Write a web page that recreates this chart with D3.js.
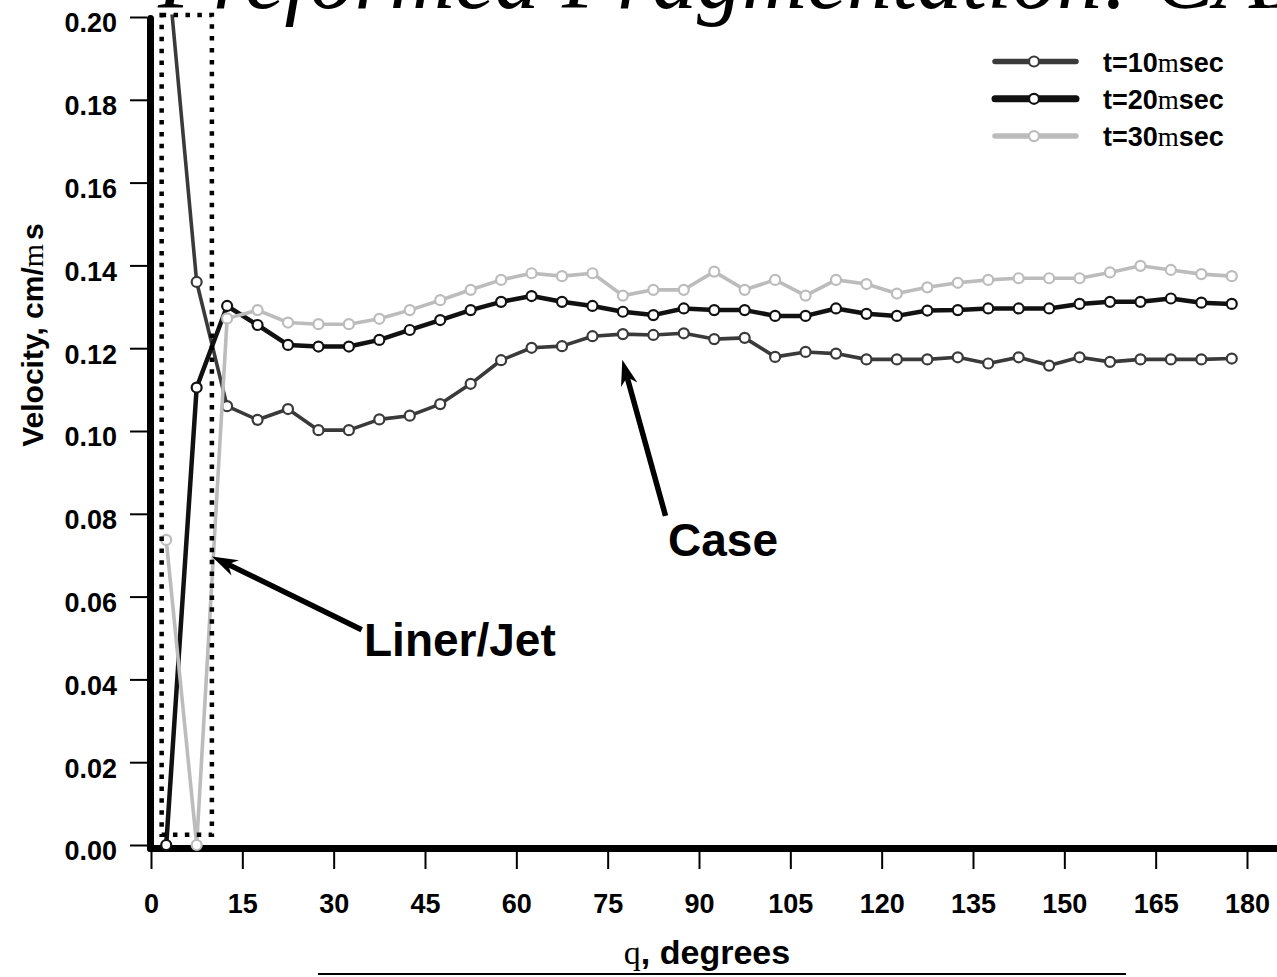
<!DOCTYPE html>
<html>
	<head>
		<title>Velocity vs angle</title>
		<meta charset="utf-8">
		<script src="https://cdn.jsdelivr.net/npm/d3@7"></script>
		<style>
			html, body
			{
				margin: 0;
				padding: 0;
				overflow: hidden;
				background: #fff;
			}

			svg
			{
				display: block;
			}
		</style>
	</head>
	<body>
		<svg id="chart" width="1277" height="977"></svg>

	<script>
		// angle of each fragment cell, degrees
		let angles = [2.5, 7.5, 12.5, 17.5, 22.5, 27.5, 32.5, 37.5, 42.5, 47.5, 52.5, 57.5,
			62.5, 67.5, 72.5, 77.5, 82.5, 87.5, 92.5, 97.5, 102.5, 107.5, 112.5, 117.5,
			122.5, 127.5, 132.5, 137.5, 142.5, 147.5, 152.5, 157.5, 162.5, 167.5, 172.5, 177.5];

		let vel10 = [0.216, 0.136, 0.106, 0.1027, 0.1053, 0.1002, 0.1002, 0.1028, 0.1037, 0.1065, 0.1114, 0.1171,
			0.1201, 0.1205, 0.1229, 0.1234, 0.1232, 0.1236, 0.1222, 0.1225, 0.1179, 0.1191, 0.1187, 0.1173,
			0.1173, 0.1173, 0.1178, 0.1163, 0.1178, 0.1158, 0.1178, 0.1167, 0.1173, 0.1173, 0.1173, 0.1175];

		let vel20 = [0.000, 0.1105, 0.1302, 0.1256, 0.1208, 0.1204, 0.1204, 0.1220, 0.1244, 0.1268, 0.1292, 0.1312,
			0.1326, 0.1312, 0.1302, 0.1288, 0.1280, 0.1296, 0.1292, 0.1292, 0.1278, 0.1278, 0.1296, 0.1283,
			0.1278, 0.1291, 0.1292, 0.1296, 0.1296, 0.1296, 0.1307, 0.1312, 0.1312, 0.1320, 0.1310, 0.1307];

		let vel30 = [0.0737, 0.000, 0.1272, 0.1292, 0.1262, 0.1258, 0.1258, 0.1271, 0.1292, 0.1316, 0.1341, 0.1365,
			0.1381, 0.1374, 0.1381, 0.1327, 0.1341, 0.1341, 0.1385, 0.1341, 0.1365, 0.1327, 0.1365, 0.1355,
			0.1332, 0.1347, 0.1358, 0.1365, 0.1369, 0.1369, 0.1369, 0.1383, 0.1399, 0.1389, 0.1379, 0.1374];

		let seriesTimes = ["10", "20", "30"];
		let xTicks = [0, 15, 30, 45, 60, 75, 90, 105, 120, 135, 150, 165, 180];
		let yTicks = [0, 0.02, 0.04, 0.06, 0.08, 0.10, 0.12, 0.14, 0.16, 0.18, 0.20];

		let sans = "'Liberation Sans', Arial, sans-serif";
		let serif = "'Liberation Serif', 'Times New Roman', serif";

		let svg = d3.select("#chart");
		svg.append("rect").attr("width", 1277).attr("height", 977).attr("fill", "#fff");

		let x = d3.scaleLinear().domain([0, 180]).range([151, 1247]);
		let y = d3.scaleLinear().domain([0, 0.2]).range([845, 17]);

		// title, mostly cut off at the top edge
		svg.append("text")
			.attr("x", 158)
			.attr("y", 8)
			.attr("font-family", serif)
			.attr("font-style", "italic")
			.attr("font-size", 90)
			.text("Preformed Fragmentation: CALE");

		// axes
		let yAxis = svg.append("g")
			.attr("transform", "translate(147,0)")
			.call(d3.axisLeft(y).tickValues(yTicks).tickSize(17).tickPadding(13).tickFormat(d3.format(".2f")));

		let xAxis = svg.append("g")
			.attr("transform", "translate(0,852)")
			.call(d3.axisBottom(x).tickValues(xTicks).tickSize(17).tickPadding(25));

		for (let a of [yAxis, xAxis])
		{
			a.select(".domain").remove();
			a.selectAll(".tick line").attr("stroke", "#000").attr("stroke-width", 2);
			a.selectAll(".tick text")
				.attr("font-family", sans)
				.attr("font-weight", "bold")
				.attr("font-size", 27)
				.attr("fill", "#000");
		}
		yAxis.selectAll(".tick text").attr("dy", "0.55em");

		svg.append("line")
			.attr("x1", 150.5).attr("x2", 150.5)
			.attr("y1", y(0.2) + 1.5).attr("y2", 848.5)
			.attr("stroke", "#000").attr("stroke-width", 7).attr("stroke-linecap", "round");
		svg.append("line")
			.attr("x1", 150.5).attr("x2", 1290)
			.attr("y1", 848.5).attr("y2", 848.5)
			.attr("stroke", "#000").attr("stroke-width", 7).attr("stroke-linecap", "round");

		// axis titles
		let yTitle = svg.append("text")
			.attr("transform", "translate(43,335) rotate(-90)")
			.attr("text-anchor", "middle")
			.attr("font-family", sans)
			.attr("font-weight", "bold")
			.attr("font-size", 30);
		yTitle.append("tspan").text("Velocity, cm/");
		yTitle.append("tspan").attr("font-family", serif).attr("font-weight", "normal").text("m");
		yTitle.append("tspan").attr("dx", 4).text("s");

		let xTitle = svg.append("text")
			.attr("x", 707)
			.attr("y", 964)
			.attr("text-anchor", "middle")
			.attr("font-family", sans)
			.attr("font-weight", "bold")
			.attr("font-size", 34);
		xTitle.append("tspan").attr("font-family", serif).attr("font-weight", "normal").text("q");
		xTitle.append("tspan").text(", degrees");

		// edge of a box below the chart, cut by the frame
		svg.append("line")
			.attr("x1", 318).attr("x2", 1126)
			.attr("y1", 974).attr("y2", 974)
			.attr("stroke", "#000").attr("stroke-width", 2);

		// series
		let series = [
			{ t: seriesTimes[0], values: vel10, color: "#3a3a3a", width: 3.6, legendWidth: 5.5 },
			{ t: seriesTimes[1], values: vel20, color: "#111", width: 4.5, legendWidth: 7 },
			{ t: seriesTimes[2], values: vel30, color: "#bcbcbc", width: 3.6, legendWidth: 5.5 }
		];

		svg.append("clipPath").attr("id", "plot-clip")
			.append("rect")
				.attr("x", 148).attr("y", y(0.2006))
				.attr("width", 1130).attr("height", 977 - y(0.2006));

		let plot = svg.append("g").attr("clip-path", "url(#plot-clip)");

		let line = d3.line()
			.x((d) => x(d[0]))
			.y((d) => y(d[1]));

		for (let s of series)
		{
			let pts = angles.map((a, i) => [a, s.values[i]]);
			let g = plot.append("g");

			g.append("path")
				.datum(pts)
				.attr("fill", "none")
				.attr("stroke", s.color)
				.attr("stroke-width", s.width)
				.attr("stroke-linejoin", "round")
				.attr("d", line);

			g.selectAll("circle")
				.data(pts)
				.enter()
				.append("circle")
					.attr("cx", (d) => x(d[0]))
					.attr("cy", (d) => y(d[1]))
					.attr("r", 5)
					.attr("fill", "#fff")
					.attr("stroke", s.color)
					.attr("stroke-width", 2.2);
		}

		// legend
		series.forEach((s, i) =>
		{
			let ly = 61.5 + i * 37.3;
			let g = svg.append("g");

			g.append("line")
				.attr("x1", 995).attr("x2", 1076)
				.attr("y1", ly).attr("y2", ly)
				.attr("stroke", s.color)
				.attr("stroke-width", s.legendWidth)
				.attr("stroke-linecap", "round");

			g.append("circle")
				.attr("cx", 1034).attr("cy", ly)
				.attr("r", 5)
				.attr("fill", "#fff")
				.attr("stroke", s.color)
				.attr("stroke-width", 2.2);

			let label = g.append("text")
				.attr("x", 1103)
				.attr("y", ly + 10)
				.attr("font-family", sans)
				.attr("font-weight", "bold")
				.attr("font-size", 27);
			label.append("tspan").text("t=" + s.t);
			label.append("tspan").attr("font-family", serif).attr("font-weight", "normal").text("m");
			label.append("tspan").text("sec");
		});

		// dotted box round the liner/jet cells
		svg.append("rect")
			.attr("x", x(1.75))
			.attr("y", y(0.2005))
			.attr("width", x(10) - x(1.75))
			.attr("height", y(0.0025) - y(0.2005))
			.attr("fill", "none")
			.attr("stroke", "#000")
			.attr("stroke-width", 4.5)
			.attr("stroke-dasharray", "4.5 7.4");

		// annotation arrows
		function arrow(x1, y1, x2, y2)
		{
			// tail (x1,y1) -> tip (x2,y2)
			let dx = x2 - x1, dy = y2 - y1;
			let len = Math.sqrt(dx * dx + dy * dy);
			let ux = dx / len, uy = dy / len;
			let nx = -uy, ny = ux;
			let headLen = 26, headW = 8.5, notch = 18;

			svg.append("line")
				.attr("x1", x1).attr("y1", y1)
				.attr("x2", x2 - ux * notch).attr("y2", y2 - uy * notch)
				.attr("stroke", "#000").attr("stroke-width", 5.5);

			let p = [
				[x2, y2],
				[x2 - ux * headLen + nx * headW, y2 - uy * headLen + ny * headW],
				[x2 - ux * notch, y2 - uy * notch],
				[x2 - ux * headLen - nx * headW, y2 - uy * headLen - ny * headW]
			];
			svg.append("polygon")
				.attr("points", p.map((q) => q.join(",")).join(" "))
				.attr("fill", "#000");
		}

		arrow(x(84.5), y(0.0795), x(77.4), y(0.1172));
		arrow(x(34.6), y(0.0520), x(10.0), y(0.0697));

		svg.append("text")
			.attr("x", 668).attr("y", 556)
			.attr("font-family", sans).attr("font-weight", "bold").attr("font-size", 46)
			.text("Case");

		svg.append("text")
			.attr("x", 364).attr("y", 656)
			.attr("font-family", sans).attr("font-weight", "bold").attr("font-size", 46)
			.text("Liner/Jet");
	</script>
	</body>
</html>
